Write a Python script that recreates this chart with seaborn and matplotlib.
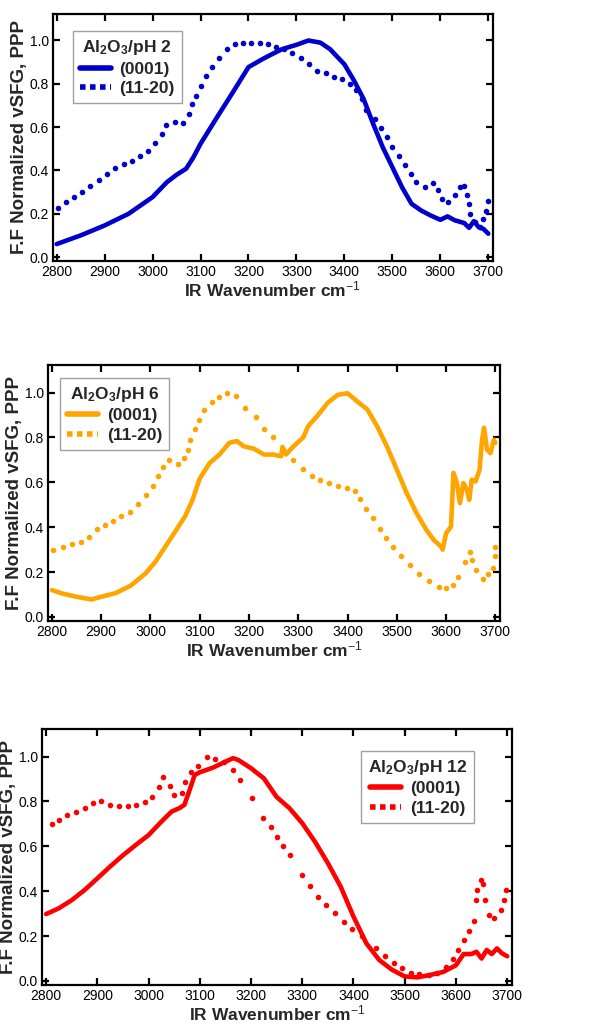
import numpy as np
import pandas as pd
import matplotlib
matplotlib.use("Agg")
import matplotlib.pyplot as plt
from matplotlib.lines import Line2D
import seaborn as sns

# ---- pH 2 ----
ph2_solid_x = [2800, 2850, 2900, 2950, 3000, 3030, 3050, 3070, 3085, 3100, 3130, 3150, 3170,
               3200, 3230, 3250, 3270, 3300, 3325, 3350, 3370, 3400, 3420, 3440, 3460, 3480,
               3500, 3520, 3540, 3560, 3580, 3600, 3615, 3630, 3650, 3660, 3670, 3680, 3690, 3700]
ph2_solid_y = [0.06, 0.10, 0.146, 0.20, 0.277, 0.346, 0.38, 0.408, 0.46, 0.523, 0.63, 0.70, 0.77,
               0.877, 0.915, 0.938, 0.96, 0.98, 1.0, 0.99, 0.96, 0.89, 0.815, 0.73, 0.615, 0.507,
               0.415, 0.323, 0.246, 0.215, 0.192, 0.172, 0.188, 0.17, 0.157, 0.135, 0.166, 0.138, 0.13, 0.108]
ph2_dot_x = [2803, 2820, 2836, 2853, 2870, 2888, 2905, 2922, 2940, 2957, 2973, 2990, 3006, 3020,
             3029, 3046, 3063, 3076, 3083, 3091, 3100, 3111, 3124, 3138, 3155, 3172, 3189, 3206,
             3223, 3240, 3258, 3275, 3290, 3309, 3327, 3343, 3361, 3379, 3396, 3412, 3424, 3436,
             3446, 3463, 3476, 3488, 3500, 3513, 3526, 3538, 3550, 3568, 3585, 3596, 3603, 3615,
             3631, 3641, 3650, 3655, 3660, 3662, 3673, 3683, 3690, 3695, 3700]
ph2_dot_y = [0.228, 0.254, 0.277, 0.30, 0.326, 0.357, 0.385, 0.41, 0.428, 0.443, 0.469, 0.492, 0.526, 0.569,
             0.608, 0.623, 0.62, 0.662, 0.705, 0.746, 0.792, 0.834, 0.877, 0.92, 0.962, 0.985, 0.989, 0.989,
             0.989, 0.985, 0.969, 0.96, 0.94, 0.92, 0.89, 0.86, 0.85, 0.83, 0.82, 0.80, 0.77, 0.73,
             0.677, 0.638, 0.595, 0.554, 0.508, 0.469, 0.426, 0.385, 0.346, 0.323, 0.341, 0.308, 0.266, 0.254,
             0.285, 0.323, 0.33, 0.288, 0.246, 0.20, 0.162, 0.138, 0.177, 0.215, 0.26]

# ---- pH 6 ----
ph6_solid_x = [2800, 2820, 2850, 2880, 2900, 2930, 2960, 2990, 3010, 3030, 3050, 3070, 3085, 3100,
               3120, 3140, 3160, 3175, 3190, 3210, 3230, 3250, 3265, 3268, 3275, 3290, 3310, 3320,
               3340, 3360, 3380, 3400, 3420, 3440, 3460, 3480, 3500, 3520, 3540, 3560, 3575, 3590,
               3593, 3600, 3610, 3615, 3622, 3628, 3635, 3642, 3647, 3652, 3660, 3668, 3673, 3677,
               3683, 3690, 3697, 3700]
ph6_solid_y = [0.12, 0.105, 0.09, 0.078, 0.09, 0.107, 0.14, 0.194, 0.246, 0.313, 0.38, 0.448, 0.52, 0.617,
               0.686, 0.724, 0.776, 0.784, 0.76, 0.75, 0.724, 0.724, 0.716, 0.758, 0.724, 0.76, 0.80, 0.85,
               0.90, 0.955, 0.99, 0.997, 0.96, 0.925, 0.85, 0.76, 0.657, 0.552, 0.463, 0.388, 0.343, 0.313,
               0.30, 0.373, 0.403, 0.642, 0.597, 0.507, 0.597, 0.567, 0.522, 0.612, 0.604, 0.657, 0.79, 0.843,
               0.746, 0.73, 0.79, 0.776]
ph6_dot_x = [2802, 2822, 2840, 2858, 2875, 2892, 2908, 2924, 2941, 2958, 2975, 2990, 3005, 3016,
             3025, 3037, 3055, 3068, 3076, 3081, 3090, 3099, 3109, 3124, 3139, 3156, 3174, 3192,
             3214, 3231, 3248, 3268, 3290, 3310, 3327, 3344, 3363, 3381, 3398, 3415, 3425, 3438,
             3452, 3465, 3478, 3492, 3509, 3526, 3545, 3566, 3586, 3600, 3614, 3624, 3638, 3649,
             3653, 3661, 3675, 3685, 3695, 3699, 3700]
ph6_dot_y = [0.30, 0.31, 0.324, 0.336, 0.355, 0.39, 0.41, 0.428, 0.45, 0.47, 0.504, 0.545, 0.582, 0.627,
             0.667, 0.70, 0.68, 0.707, 0.746, 0.79, 0.839, 0.88, 0.922, 0.958, 0.982, 1.0, 0.985, 0.93,
             0.89, 0.84, 0.80, 0.745, 0.70, 0.66, 0.63, 0.61, 0.595, 0.585, 0.575, 0.56, 0.525, 0.48,
             0.44, 0.39, 0.35, 0.31, 0.27, 0.23, 0.19, 0.16, 0.135, 0.128, 0.142, 0.18, 0.247, 0.29,
             0.253, 0.208, 0.17, 0.19, 0.22, 0.27, 0.31]

# ---- pH 12 ----
ph12_solid_x = [2800, 2825, 2850, 2875, 2900, 2925, 2950, 2975, 3000, 3025, 3045, 3060, 3070, 3080,
                3090, 3100, 3125, 3150, 3165, 3175, 3200, 3225, 3250, 3275, 3300, 3325, 3350, 3375,
                3400, 3425, 3450, 3475, 3500, 3525, 3550, 3575, 3600, 3615, 3630, 3640, 3650, 3660,
                3670, 3680, 3690, 3700]
ph12_solid_y = [0.298, 0.324, 0.36, 0.405, 0.457, 0.51, 0.56, 0.606, 0.65, 0.71, 0.755, 0.77, 0.785, 0.85,
                0.918, 0.93, 0.95, 0.977, 0.993, 0.985, 0.948, 0.903, 0.82, 0.77, 0.703, 0.62, 0.525, 0.42,
                0.287, 0.168, 0.094, 0.05, 0.02, 0.016, 0.027, 0.04, 0.07, 0.12, 0.12, 0.13, 0.10, 0.138,
                0.12, 0.145, 0.123, 0.11]
ph12_dot_x = [2812, 2825, 2841, 2858, 2875, 2892, 2908, 2925, 2942, 2959, 2976, 2993, 3007, 3020,
              3029, 3041, 3049, 3065, 3072, 3082, 3097, 3114, 3130, 3147, 3164, 3179, 3202, 3223,
              3239, 3251, 3263, 3276, 3300, 3315, 3330, 3346, 3363, 3381, 3398, 3416, 3444, 3462,
              3479, 3495, 3512, 3528, 3547, 3563, 3580, 3594, 3604, 3615, 3625, 3635, 3639, 3642,
              3648, 3652, 3657, 3664, 3675, 3687, 3693, 3698]
ph12_dot_y = [0.70, 0.718, 0.74, 0.752, 0.77, 0.795, 0.80, 0.786, 0.78, 0.78, 0.786, 0.798, 0.82, 0.866,
              0.91, 0.87, 0.83, 0.836, 0.886, 0.93, 0.96, 0.997, 0.99, 0.978, 0.94, 0.896, 0.814, 0.725,
              0.688, 0.643, 0.60, 0.56, 0.47, 0.423, 0.376, 0.339, 0.305, 0.262, 0.23, 0.20, 0.146, 0.113,
              0.082, 0.056, 0.037, 0.031, 0.027, 0.037, 0.061, 0.10, 0.138, 0.183, 0.224, 0.267, 0.36, 0.405,
              0.45, 0.43, 0.36, 0.294, 0.28, 0.316, 0.36, 0.405]

panels = [
    ("2", "#0000cc", ph2_solid_x, ph2_solid_y, ph2_dot_x, ph2_dot_y,
     [0.088, 0.7476, 0.733, 0.239], "upper left", (0.045, 0.93)),
    ("6", "#ffa500", ph6_solid_x, ph6_solid_y, ph6_dot_x, ph6_dot_y,
     [0.080, 0.3994, 0.753, 0.2476], "upper left", (0.027, 0.95)),
    ("12", "#ff0000", ph12_solid_x, ph12_solid_y, ph12_dot_x, ph12_dot_y,
     [0.070, 0.0474, 0.783, 0.2476], "upper right", (0.92, 0.915)),
]

sns.set_style("ticks")
plt.rcParams["font.family"] = ["Liberation Sans", "DejaVu Sans"]
plt.rcParams["mathtext.fontset"] = "custom"
plt.rcParams["mathtext.rm"] = "Liberation Sans"
plt.rcParams["mathtext.bf"] = "Liberation Sans:bold"
plt.rcParams["mathtext.it"] = "Liberation Sans:italic"

fig = plt.figure(figsize=(6, 10.34), dpi=100)

for ph, col, sx, sy, dx, dy, pos, loc, anchor in panels:
    ax = fig.add_axes(pos)
    solid = pd.DataFrame({"x": sx, "y": sy})
    dots = pd.DataFrame({"x": dx, "y": dy})
    sns.lineplot(data=solid, x="x", y="y", ax=ax, color=col, linewidth=3.3)
    sns.scatterplot(data=dots, x="x", y="y", ax=ax, color=col, s=16, linewidth=0)

    ax.set_xlim(2792, 3709)
    ax.set_ylim(-0.018, 1.123)
    ax.set_xticks(np.arange(2800, 3701, 100))
    ax.set_yticks([0.0, 0.2, 0.4, 0.6, 0.8, 1.0])
    ax.set_yticklabels(["0.0", "0.2", "0.4", "0.6", "0.8", "1.0"])
    ax.tick_params(direction="in", top=True, right=True, length=5, width=1.6,
                   labelsize=10, colors="black", pad=3)
    for sp in ax.spines.values():
        sp.set_linewidth(1.6)
        sp.set_color("black")
    ax.set_xlabel("IR Wavenumber cm$^{\\mathrm{-1}}$", fontsize=12.5, fontweight="bold", labelpad=0)
    ax.set_ylabel("F.F Normalized vSFG, PPP", fontsize=13.5, fontweight="bold", labelpad=1)

    handles = [Line2D([0], [0], color=col, lw=4, ls="-"),
               Line2D([0], [0], color=col, lw=4, ls=(0, (1, 0.8)))]
    leg = ax.legend(handles, ["(0001)", "(11-20)"],
                    title=r"Al$_\mathbf{2}$O$_\mathbf{3}$/pH " + ph,
                    loc=loc, bbox_to_anchor=anchor, frameon=True, fancybox=False,
                    prop={"weight": "bold", "size": 12.5}, handlelength=1.8,
                    borderpad=0.4, labelspacing=0.25, handletextpad=0.5,
                    borderaxespad=0.0)
    leg.get_title().set_fontweight("bold")
    leg.get_title().set_fontsize(12.5)
    leg.get_frame().set_edgecolor("#888888")
    leg.get_frame().set_linewidth(1.0)

fig.savefig("out.png", dpi=100)
